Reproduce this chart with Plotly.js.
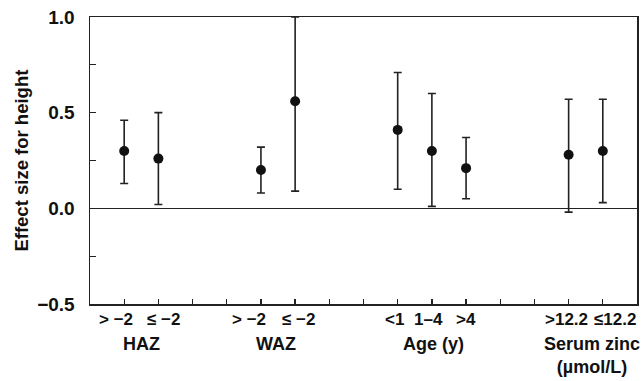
<!DOCTYPE html>
<html>
<head>
<meta charset="utf-8">
<script src="https://cdn.plot.ly/plotly-3.0.1.min.js"></script>
<style>html,body{margin:0;padding:0;background:#fff;}#chart{width:641px;height:381px;}</style>
</head>
<body>
<div id="chart"></div>
<script>
// Groups and their subgroup labels
const groups = ["HAZ", "WAZ", "Age (y)", "Serum zinc<br>(µmol/L)"];
const subLabels = [
  ["> −2", "≤ −2"],
  ["> −2", "≤ −2"],
  ["<1", "1–4", ">4"],
  [">12.2", "≤12.2"]
];
// Effect sizes and 95% CI bounds
const effect = [
  [0.30, 0.26],
  [0.20, 0.56],
  [0.41, 0.30, 0.21],
  [0.28, 0.30]
];
const lower = [
  [0.13, 0.02],
  [0.08, 0.09],
  [0.10, 0.01, 0.05],
  [-0.02, 0.03]
];
const upper = [
  [0.46, 0.50],
  [0.32, 1.00],
  [0.71, 0.60, 0.37],
  [0.57, 0.57]
];
const yTicks = [-0.5, 0.0, 0.5, 1.0];

// ---- layout-only label nudges (pixels), matching the typeset original ----
const subLabelNudge = [[-8, 5], [-12, 3], [-3, -3, 0], [-2, 12]];
const groupLabelNudge = [0, -2, 2, 6];

// Build positions: consecutive slots per group, two empty slots between groups
const gapSlots = 2;
let pos = 1;
const xs = [], ys = [], ep = [], em = [], groupCenters = [];
const font = {family: "Liberation Sans, Arial, Helvetica, sans-serif", size: 17, color: "#111", weight: "bold"};
const annotations = [];
groups.forEach((g, gi) => {
  const start = pos;
  subLabels[gi].forEach((lab, i) => {
    xs.push(pos); ys.push(effect[gi][i]);
    ep.push(upper[gi][i] - effect[gi][i]);
    em.push(effect[gi][i] - lower[gi][i]);
    annotations.push({
      x: pos, y: 0, xref: "x", yref: "paper", yanchor: "middle", yshift: -15,
      xshift: subLabelNudge[gi][i], text: lab, showarrow: false, borderpad: 0,
      font: Object.assign({}, font, {size: 17})
    });
    pos++;
  });
  groupCenters.push((start + pos - 1) / 2);
  if (gi < groups.length - 1) pos += gapSlots;
});
const lastSlot = pos - 1;
const tickvals = [];
for (let t = 1; t <= lastSlot; t++) tickvals.push(t);

groups.forEach((g, gi) => annotations.push({
  x: groupCenters[gi], y: 0, xref: "x", yref: "paper",
  yanchor: "top", yshift: -29, xshift: groupLabelNudge[gi], text: g, showarrow: false,
  borderpad: 0,
  font: Object.assign({}, font, {size: 18})
}));
annotations.push({
  x: -0.126, y: 0.5, xref: "paper", yref: "paper", xanchor: "center", yanchor: "middle",
  text: "Effect size for height", textangle: -90, showarrow: false,
  font: Object.assign({}, font, {size: 18.5})
});

const trace = {
  x: xs, y: ys, type: "scatter", mode: "markers",
  marker: {size: 10, color: "#111"},
  error_y: {type: "data", symmetric: false, array: ep, arrayminus: em,
            color: "#222", thickness: 1.6, width: 4},
  hoverinfo: "skip", cliponaxis: false
};

const layout = {
  width: 641, height: 381,
  margin: {l: 90, r: 4, t: 17, b: 77},
  paper_bgcolor: "#fff", plot_bgcolor: "#fff",
  showlegend: false,
  font: font,
  xaxis: {
    range: [0, lastSlot + 1], tickvals: tickvals, showticklabels: false,
    ticks: "inside", ticklen: 5, tickwidth: 1.3, tickcolor: "#222",
    showline: true, linecolor: "#222", linewidth: 1.5, mirror: true,
    showgrid: false, zeroline: false, fixedrange: true
  },
  yaxis: {
    range: [-0.5, 1.0], tickvals: yTicks, tickformat: ".1f",
    ticks: "inside", ticklen: 6, tickwidth: 1.3, tickcolor: "#222",
    minor: {dtick: 0.25, ticks: "inside", ticklen: 6, tickwidth: 1.3, tickcolor: "#222", showgrid: false},
    showline: true, linecolor: "#222", linewidth: 1.5, mirror: true,
    showgrid: false, zeroline: true, zerolinecolor: "#222", zerolinewidth: 1.5,
    ticklabelstandoff: 10,
    tickfont: Object.assign({}, font, {size: 19}), fixedrange: true
  },
  annotations: annotations
};

Plotly.newPlot("chart", [trace], layout, {displayModeBar: false, staticPlot: true});
</script>
</body>
</html>
